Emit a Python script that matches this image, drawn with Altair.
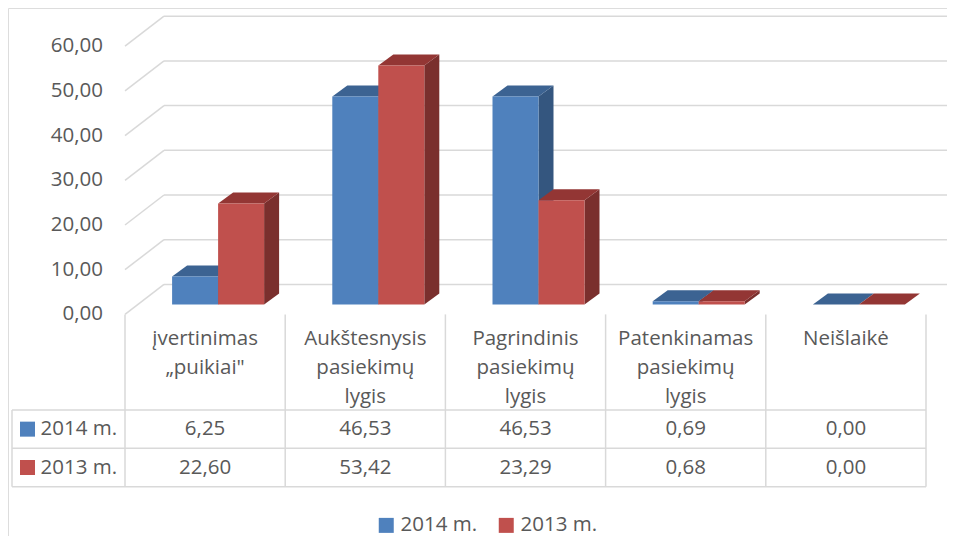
import altair as alt
import pandas as pd

# ---------------- data ----------------
categories = [
    ["įvertinimas", "„puikiai\""],
    ["Aukštesnysis", "pasiekimų", "lygis"],
    ["Pagrindinis", "pasiekimų", "lygis"],
    ["Patenkinamas", "pasiekimų", "lygis"],
    ["Neišlaikė"],
]
series = ["2014 m.", "2013 m."]
values_2014 = [6.25, 46.53, 46.53, 0.69, 0.00]
values_2013 = [22.60, 53.42, 23.29, 0.68, 0.00]
y_ticks = [0, 10, 20, 30, 40, 50, 60]

# ---------------- layout constants ----------------
W, H = 939, 528
FONT = "Open Sans"
FS = 20.5
TXT = "#595959"
GRID = "#D9D9D9"
front_colors = ["#4F81BD", "#C0504D"]
top_colors = ["#3C6392", "#933634"]
side_colors = ["#34567F", "#7A2F2D"]

PXC = 160.2          # px per category column
PXV = 4.47           # px per value unit
DEPTH_X = 39 / PXC   # floor depth, in column units
DEPTH_Y = 30 / PXV   # floor depth, in value units
BAR_SHIFT_X = DEPTH_X / 3
BAR_BASE = DEPTH_Y / 3
BAR_W = 46 / PXC
BAR_DX = 15 / PXC
BAR_DY = 11 / PXV
N = len(categories)


def fmt(v):
    return f"{v:.2f}".replace(".", ",")


def ypage(p):  # page pixel -> value units (layout helper for table rows)
    return (306.4 - (p - 8)) / PXV


def xpage(p):
    return (p - 125) / PXC


xs = alt.Scale(domain=[0, N], range=[117, 918], zero=False, nice=False)
ys = alt.Scale(domain=[0, 60], range=[306.4, 38.2], zero=False, nice=False)

# ---------------- bar geometry from data ----------------
front_rows, top_rows, side_rows = [], [], []
for s_idx, (sname, vals) in enumerate(zip(series, [values_2014, values_2013])):
    for i, v in enumerate(vals):
        x0 = i + 0.5 + BAR_SHIFT_X - BAR_W + s_idx * BAR_W
        x1 = x0 + BAR_W
        yb = BAR_BASE
        yt = BAR_BASE + v
        key = f"{i}-{s_idx}"
        front_rows.append(dict(series=sname, x0=x0, x1=x1, yb=yb, yt=yt))
        top_rows.append(dict(key=key, series=sname, y=yt, xa=x0, xb=x1))
        top_rows.append(dict(key=key, series=sname, y=yt + BAR_DY, xa=x0 + BAR_DX, xb=x1 + BAR_DX))
        side_rows.append(dict(key=key, series=sname, x=x1, ya=yb, yb=yt))
        side_rows.append(dict(key=key, series=sname, x=x1 + BAR_DX, ya=yb + BAR_DY, yb=yt + BAR_DY))
front_df = pd.DataFrame(front_rows)
top_df = pd.DataFrame(top_rows)
side_df = pd.DataFrame(side_rows)

ticks_df = pd.DataFrame({"t": y_ticks})
ticks_df["label"] = ticks_df["t"].map(fmt)
ticks_df["xb0"] = DEPTH_X
ticks_df["xb1"] = N + DEPTH_X + 0.2
ticks_df["yback"] = ticks_df["t"] + DEPTH_Y
ticks_df["x0"] = 0.0

# ---------------- walls ----------------
back_grid = alt.Chart(ticks_df).mark_rule(color=GRID, strokeWidth=1.5).encode(
    x=alt.X("xb0:Q", scale=xs, axis=None), x2="xb1:Q",
    y=alt.Y("yback:Q", scale=ys, axis=None), y2="yback:Q")
side_grid = alt.Chart(ticks_df).mark_rule(color=GRID, strokeWidth=1.5).encode(
    x=alt.X("x0:Q", scale=xs, axis=None), x2="xb0:Q",
    y=alt.Y("t:Q", scale=ys, axis=None), y2="yback:Q")
y_labels = alt.Chart(ticks_df).mark_text(
    align="right", baseline="middle", dx=-22, font=FONT, fontSize=FS, color=TXT).encode(
    x=alt.X("x0:Q", scale=xs, axis=None), y=alt.Y("t:Q", scale=ys, axis=None), text="label:N")

# ---------------- 3D bars ----------------
sides = alt.Chart(side_df).mark_area(orient="vertical").encode(
    x=alt.X("x:Q", scale=xs, axis=None),
    y=alt.Y("ya:Q", scale=ys, axis=None, stack=None), y2="yb:Q",
    detail="key:N",
    color=alt.Color("series:N", scale=alt.Scale(domain=series, range=side_colors), legend=None))
tops = alt.Chart(top_df).mark_area(orient="horizontal").encode(
    y=alt.Y("y:Q", scale=ys, axis=None),
    x=alt.X("xa:Q", scale=xs, axis=None, stack=None), x2="xb:Q",
    detail="key:N",
    color=alt.Color("series:N", scale=alt.Scale(domain=series, range=top_colors), legend=None))
fronts = alt.Chart(front_df).mark_rect().encode(
    x=alt.X("x0:Q", scale=xs, axis=None), x2="x1:Q",
    y=alt.Y("yb:Q", scale=ys, axis=None), y2="yt:Q",
    color=alt.Color("series:N", scale=alt.Scale(domain=series, range=front_colors),
                    legend=alt.Legend(orient="none", legendX=368, legendY=507, direction="horizontal",
                                      title=None, symbolType="square", symbolSize=225,
                                      symbolStrokeWidth=0, labelFont=FONT, labelFontSize=FS,
                                      labelColor=TXT, columnPadding=18, labelOffset=4, padding=0)))

# ---------------- data table ----------------
Y_HDR_BOTTOM = ypage(410)
Y_ROW1 = ypage(448.3)
Y_ROW2 = ypage(486.7)
X_LEFT = xpage(12)

vlines = pd.DataFrame({"x": [float(i) for i in range(N + 1)],
                       "y0": [0.0] * (N + 1),
                       "y1": [Y_ROW2] * (N + 1)})
leftline = pd.DataFrame({"x": [X_LEFT], "y0": [Y_HDR_BOTTOM], "y1": [Y_ROW2]})
hlines = pd.DataFrame({"y": [Y_HDR_BOTTOM, Y_ROW1, Y_ROW2]})
hlines["x0"] = X_LEFT
hlines["x1"] = float(N)

table_v = alt.Chart(vlines).mark_rule(color=GRID, strokeWidth=1.5).encode(
    x=alt.X("x:Q", scale=xs, axis=None), y=alt.Y("y0:Q", scale=ys, axis=None), y2="y1:Q")
table_l = alt.Chart(leftline).mark_rule(color=GRID, strokeWidth=1.5).encode(
    x=alt.X("x:Q", scale=xs, axis=None), y=alt.Y("y0:Q", scale=ys, axis=None), y2="y1:Q")
table_h = alt.Chart(hlines).mark_rule(color=GRID, strokeWidth=1.5).encode(
    x=alt.X("x0:Q", scale=xs, axis=None), x2="x1:Q",
    y=alt.Y("y:Q", scale=ys, axis=None), y2="y:Q")

hdr_df = pd.DataFrame({"x": [i + 0.5 for i in range(N)], "text": ["\n".join(c) for c in categories]})
hdr_df["y"] = ypage(329)
header = alt.Chart(hdr_df).mark_text(
    align="center", baseline="top", lineBreak="\n", lineHeight=29,
    font=FONT, fontSize=FS, color=TXT).encode(
    x=alt.X("x:Q", scale=xs, axis=None), y=alt.Y("y:Q", scale=ys, axis=None), text="text:N")

cell_rows = []
row_centers = [(Y_HDR_BOTTOM + Y_ROW1) / 2, (Y_ROW1 + Y_ROW2) / 2]
for s_idx, (sname, vals) in enumerate(zip(series, [values_2014, values_2013])):
    for i, v in enumerate(vals):
        cell_rows.append(dict(series=sname, x=i + 0.5, y=row_centers[s_idx], text=fmt(v)))
cells_df = pd.DataFrame(cell_rows)
cells = alt.Chart(cells_df).mark_text(
    align="center", baseline="middle", font=FONT, fontSize=FS, color=TXT).encode(
    x=alt.X("x:Q", scale=xs, axis=None), y=alt.Y("y:Q", scale=ys, axis=None), text="text:N")

rowhdr_df = pd.DataFrame({"series": series, "y": row_centers})
rowhdr_df["xs"] = xpage(27.5)
rowhdr_df["xt"] = xpage(40.5)
row_sq = alt.Chart(rowhdr_df).mark_point(shape="square", filled=True, size=225, opacity=1).encode(
    x=alt.X("xs:Q", scale=xs, axis=None), y=alt.Y("y:Q", scale=ys, axis=None),
    color=alt.Color("series:N", scale=alt.Scale(domain=series, range=front_colors), legend=None))
row_txt = alt.Chart(rowhdr_df).mark_text(
    align="left", baseline="middle", font=FONT, fontSize=FS, color=TXT).encode(
    x=alt.X("xt:Q", scale=xs, axis=None), y=alt.Y("y:Q", scale=ys, axis=None), text="series:N")

chart = alt.layer(
    back_grid, side_grid, y_labels, sides, tops, fronts,
    table_v, table_l, table_h, header, cells, row_sq, row_txt
).resolve_scale(color="independent").properties(
    width=W, height=H, autosize=alt.AutoSizeParams(type="none"), padding=0
).configure_view(stroke=None).configure(background="white")

chart.save("out.html", embed_options={"renderer": "svg", "actions": False})
